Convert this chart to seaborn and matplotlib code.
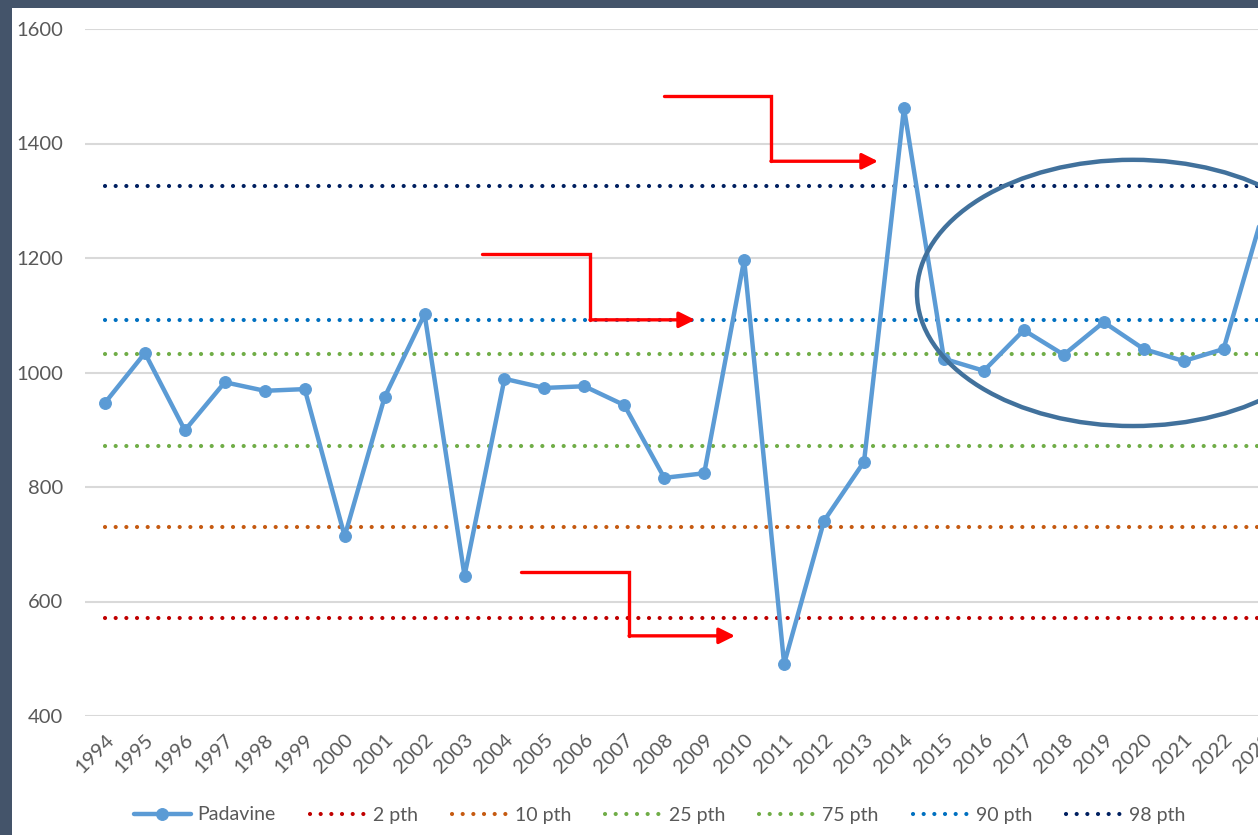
import matplotlib.pyplot as plt
import pandas as pd
import seaborn as sns
from matplotlib.patches import Ellipse, Rectangle

# data
years = list(range(1994, 2024))
padavine = [947, 1034, 899, 983, 968, 971, 714, 957, 1102, 645,
            989, 973, 976, 943, 816, 824, 1197, 491, 741, 844,
            1462, 1024, 1003, 1074, 1031, 1088, 1041, 1020, 1041, 1282]
pct_labels = ['2 pth', '10 pth', '25 pth', '75 pth', '90 pth', '98 pth']
pct_values = [571, 730, 872, 1032, 1092, 1326]
pct_colors = ['#C00000', '#C55A11', '#70AD47', '#70AD47', '#0070C0', '#002060']

df = pd.DataFrame({'year': years, 'value': padavine})

sns.set_style('white')
plt.rcParams['font.family'] = ['Lato', 'DejaVu Sans']

fig = plt.figure(figsize=(12.58, 8.35), dpi=100, facecolor='#44546A')
# white chart area inside the dark frame
fig.patches.append(Rectangle((12 / 1258, 0), 1, 827 / 835, transform=fig.transFigure,
                             facecolor='white', edgecolor='none', zorder=-10))
ax = fig.add_axes([85 / 1258, 119 / 835, 1198.5 / 1258, 687 / 835])
ax.set_facecolor('none')

sns.lineplot(data=df, x='year', y='value', ax=ax, color='#5B9BD5', linewidth=3.2,
             marker='o', markersize=8.5, markeredgecolor='#5B9BD5', label='Padavine',
             zorder=5)

for lab, val, col in zip(pct_labels, pct_values, pct_colors):
    ax.plot([years[0], years[-1]], [val, val], color=col, lw=3.0,
            ls=(0, (0.01, 2.55)), dash_capstyle='round', label=lab, zorder=3)

ax.set_xlim(years[0] - 0.5, years[-1] + 0.5)
ax.set_ylim(400, 1600)
ax.set_yticks(range(400, 1601, 200))
ax.set_xticks(years)
ax.set_xticklabels([str(y) for y in years], rotation=45, ha='right', va='top',
                   rotation_mode='anchor')
ax.tick_params(axis='both', length=0, labelsize=14.5, labelcolor='#595959')
ax.tick_params(axis='y', pad=16)
ax.tick_params(axis='x', pad=11)
ax.grid(axis='y', color='#D9D9D9', lw=1.5)
ax.set_axisbelow(True)
for s in ax.spines.values():
    s.set_visible(False)
ax.set_xlabel('')
ax.set_ylabel('')

# red elbow arrows
arrows = [
    [(2008.0, 1483), (2010.67, 1483), (2010.67, 1369), (2013.35, 1369)],
    [(2003.44, 1207), (2006.14, 1207), (2006.14, 1092), (2008.77, 1092)],
    [(2004.41, 652), (2007.12, 652), (2007.12, 540), (2009.77, 540)],
]
for pts in arrows:
    xs = [p[0] for p in pts[:3]]
    ys = [p[1] for p in pts[:3]]
    ax.plot(xs, ys, color='red', lw=2.4, solid_joinstyle='miter', zorder=6)
    ax.annotate('', xy=pts[3], xytext=pts[2],
                arrowprops=dict(arrowstyle='-|>', color='red', lw=2.4,
                                mutation_scale=24, shrinkA=0, shrinkB=0), zorder=6)

ax.add_patch(Ellipse((2019.73, 1139), 10.81, 465, fill=False, edgecolor='#41719C',
                     lw=3.2, zorder=7))

leg = ax.legend(loc='center', bbox_to_anchor=(660 / 1258, 20 / 835),
                bbox_transform=fig.transFigure, ncol=7, frameon=False, fontsize=14,
                handlelength=2.9, handletextpad=0.35, columnspacing=1.75)
for t in leg.get_texts():
    t.set_color('#595959')

fig.savefig('out.png', dpi=100, facecolor=fig.get_facecolor())
